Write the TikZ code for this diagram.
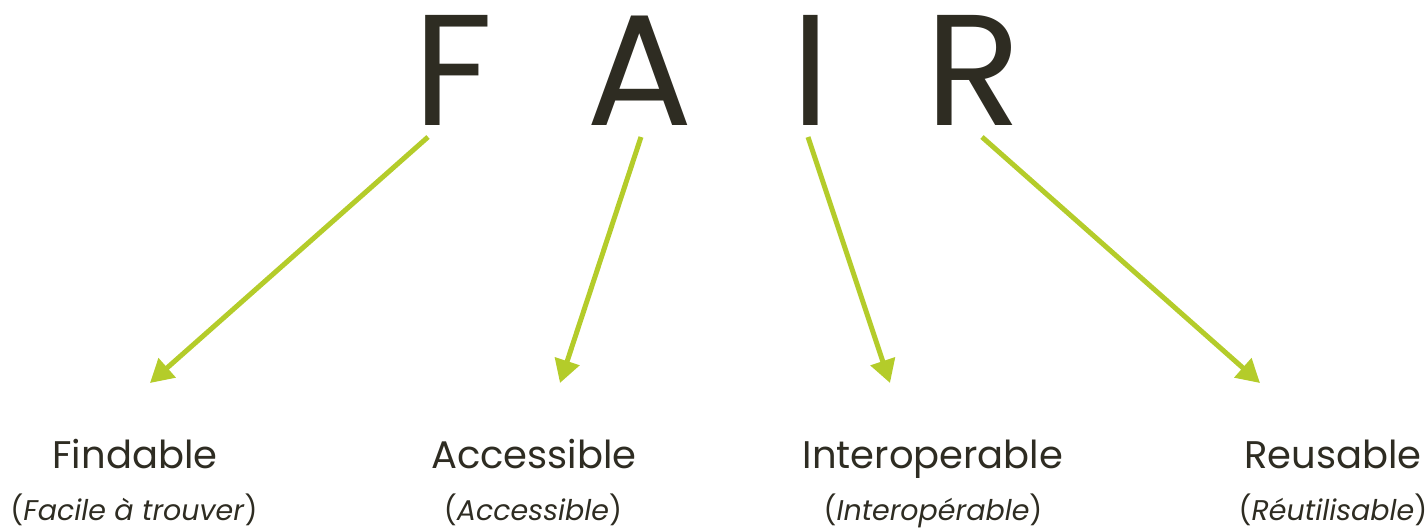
\documentclass[tikz,border=0pt]{standalone}
\usepackage{fontspec}
\setmainfont{Poppins}
\usetikzlibrary{arrows.meta}
\definecolor{ink}{HTML}{2E2C22}
\definecolor{lime}{HTML}{B4CC2A}
\begin{document}
\begin{tikzpicture}[x=1pt,y=-1pt,
  big/.style={font=\fontsize{158}{160}\selectfont, text=ink, anchor=base, inner sep=0},
  term/.style={font=\fontsize{38.5}{44}\selectfont, text=ink, anchor=base, inner sep=0},
  fr/.style={font=\fontsize{28.5}{32}\selectfont, text=ink, anchor=base, inner sep=0},
  arr/.style={draw=lime, line width=5pt, -{Triangle[width=25pt,length=23pt]}}]
\useasboundingbox (0,0) rectangle (1428,530);
\node[big] (F) at (453,125) {F};
\node[big] (A) at (640,125) {A};
\node[big] (I) at (811,125) {I};
\node[big] (R) at (974,125) {R};
\coordinate (fs) at (428,137); \coordinate (fe) at (150,383);
\coordinate (as) at (641,137); \coordinate (ae) at (560,383);
\coordinate (is) at (808,137); \coordinate (ie) at (890,383);
\coordinate (rs) at (982,137); \coordinate (re) at (1260,383);
\draw[arr] (fs) -- (fe);
\draw[arr] (as) -- (ae);
\draw[arr] (is) -- (ie);
\draw[arr] (rs) -- (re);
\node[term] (t1) at (135,468) {Findable};
\node[term] (t2) at (534,468) {Accessible};
\node[term] (t3) at (933,468) {Interoperable};
\node[term] (t4) at (1333,468) {Reusable};
\node[fr] (f1) at (134,520) {(\textit{Facile à trouver})};
\node[fr] (f2) at (533,520) {(\textit{Accessible})};
\node[fr] (f3) at (933,520) {(\textit{Interopérable})};
\node[fr] (f4) at (1333,520) {(\textit{Réutilisable})};
\end{tikzpicture}
\end{document}
